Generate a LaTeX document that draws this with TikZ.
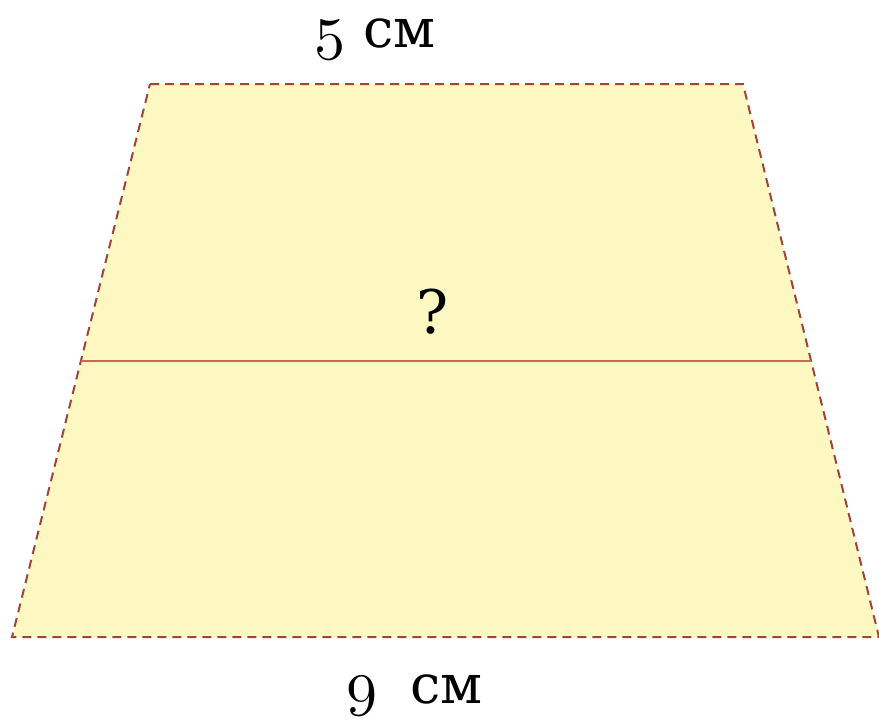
\documentclass[tikz,border=0pt]{standalone}
\usepackage{fontspec}
\newfontfamily\labelfont{DejaVu Serif}
\usepackage{tikz}
\usetikzlibrary{calc}
\definecolor{trapfill}{RGB}{253,247,193}
\definecolor{trapedge}{RGB}{160,68,56}
\definecolor{midedge}{RGB}{204,104,80}
\newcommand\olddigit[1]{\scalebox{6.2}{\fontencoding{OML}\fontfamily{lmm}\fontseries{b}\fontshape{it}\fontsize{10}{12}\selectfont #1}}
\tikzset{
  trapside/.style={draw=trapedge, line width=2pt, dash pattern=on 9pt off 6pt},
  midline/.style={draw=midedge, line width=2pt},
  sizelabel/.style={font=\labelfont\fontsize{54}{60}\selectfont, inner sep=0pt, anchor=base west},
}

\begin{document}
\begin{tikzpicture}[x=1pt, y=-1pt]
  \useasboundingbox (0,0) rectangle (879,720);

  % Corners of the trapezoid
  \coordinate (tl) at (150,84);
  \coordinate (tr) at (743,84);
  \coordinate (br) at (879,637);
  \coordinate (bl) at (12,637);

  % Fill and dashed outline
  \fill[trapfill] (tl) -- (tr) -- (br) -- (bl) -- cycle;
  \draw[trapside] (tl) -- (tr) -- (br) -- (bl) -- cycle;

  % Midline
  \coordinate (ml) at ($(tl)!0.5!(bl)$);
  \coordinate (mr) at ($(tr)!0.5!(br)$);
  \draw[midline] (ml) -- (mr);

  % Labels
  \node[sizelabel] (top) at (314,47) {\olddigit{5}\hspace{18pt}см};
  \node[sizelabel, anchor=base, font=\labelfont\fontsize{60}{66}\selectfont] (mid) at (433,333) {?};
  \node[sizelabel] (bot) at (346,703) {\olddigit{9}\hspace{33pt}см};
\end{tikzpicture}
\end{document}
